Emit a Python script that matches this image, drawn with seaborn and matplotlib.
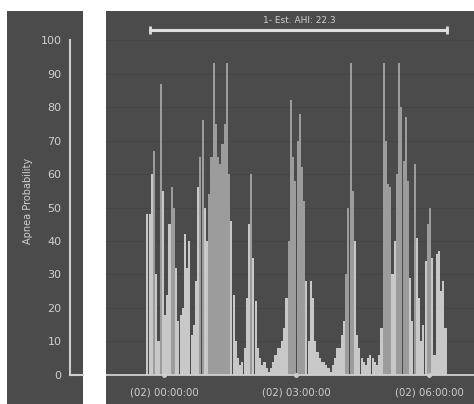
import numpy as np
import pandas as pd
import seaborn as sns
import matplotlib.pyplot as plt
from matplotlib.ticker import MultipleLocator

sns.set_style('white')
plt.rcParams['font.family'] = ['DejaVu Sans']

# 3-minute bins, minutes relative to (02) 00:00:00
minutes = np.arange(-22.5, 384, 3)
prob = [48, 48, 60, 67, 30, 10, 87, 55, 18, 24,
        45, 56, 50, 32, 16, 18, 20, 42, 32, 40,
        12, 15, 28, 56, 65, 76, 50, 40, 54, 65,
        93, 75, 65, 63, 69, 75, 93, 60, 46, 24,
        10, 5, 3, 4, 8, 23, 45, 60, 35, 22,
        8, 5, 3, 4, 2, 1, 2, 4, 6, 8,
        8, 10, 14, 23, 40, 82, 65, 58, 70, 78,
        62, 52, 28, 10, 28, 23, 10, 7, 5, 4,
        4, 3, 2, 1, 3, 5, 8, 8, 12, 16,
        30, 50, 93, 55, 40, 12, 8, 5, 4, 3,
        5, 6, 5, 4, 3, 6, 14, 93, 70, 57,
        56, 30, 40, 60, 93, 80, 64, 77, 58, 29,
        16, 63, 41, 23, 10, 15, 34, 45, 50, 35,
        6, 36, 37, 25, 28, 14]
mid_bins = [3, 6, 11, 12, 24, 25] + list(range(28, 38)) + [47] + list(range(64, 72)) \
    + [90, 91, 92, 93, 107, 108, 109, 110, 113, 114, 115, 116, 117, 118, 121, 127, 128]
tone = ['mid' if i in mid_bins else 'light' for i in range(len(prob))]
tick_minutes = [0, 180, 360]
tick_labels = ['(02) 00:00:00', '(02) 03:00:00', '(02) 06:00:00']
y_ticks = list(range(0, 101, 10))
ahi_text = '1- Est. AHI: 22.3'

df = pd.DataFrame({'minute': minutes, 'prob': prob, 'tone': tone})

bg = '#4b4b4b'
fg = '#cfcfcf'
W, H = 474, 404


def px(x0, y0, x1, y1):
    return [x0 / W, 1 - y1 / H, (x1 - x0) / W, (y1 - y0) / H]


fig = plt.figure(figsize=(4.74, 4.04), dpi=100, facecolor='white')
ax = fig.add_axes(px(106, 11, 474, 404))
lax = fig.add_axes(px(7, 11, 83, 404))
ylim = (-8.66, 108.66)

# main panel
ax.set_facecolor(bg)
for v in y_ticks[1:]:
    ax.axhline(v, color='#454545', lw=0.6, zorder=0.5)
sns.barplot(data=df, x='minute', y='prob', hue='tone',
            palette={'light': '#c8c8c8', 'mid': '#9c9c9c'},
            native_scale=True, dodge=False, width=0.95, linewidth=0,
            errorbar=None, legend=False, ax=ax, zorder=2)
ax.set_xlim(-78.8, 421.2)
ax.set_ylim(*ylim)
ax.axhline(0, color=fg, lw=1.3, zorder=3)
ax.plot(tick_minutes, [0] * 3, 'o', color=fg, ms=2.5, zorder=4)
for m, lab in zip(tick_minutes, tick_labels):
    ax.text(m, -5.2, lab, ha='center', va='center', color=fg, fontsize=7.3)
ax.set_xticks([])
ax.set_yticks([])
ax.set_xlabel('')
ax.set_ylabel('')
for s in ax.spines.values():
    s.set_visible(False)

# AHI bracket
ax.plot([-19, 384], [103, 103], color='#dddddd', lw=2.2, zorder=5)
ax.plot([-19, 384], [103, 103], '|', color='#dddddd', ms=6, mew=2, zorder=5)
ax.text(184, 105.8, ahi_text, ha='center', va='center', color=fg, fontsize=6.5)

# left axis panel
lax.set_facecolor(bg)
lax.set_xlim(0, 76)
lax.set_ylim(*ylim)
for k in ['top', 'right', 'bottom']:
    lax.spines[k].set_visible(False)
lax.spines['left'].set_position(('data', 63))
lax.spines['left'].set_bounds(0, 100)
lax.spines['left'].set_color(fg)
lax.spines['left'].set_linewidth(1.5)
lax.set_xticks([])
lax.set_yticks(y_ticks)
lax.yaxis.set_minor_locator(MultipleLocator(5))
lax.tick_params(axis='y', which='major', length=4, width=1.2, color=fg,
                labelcolor=fg, labelsize=8, pad=2)
lax.tick_params(axis='y', which='minor', length=2.5, width=1.2, color=fg)
lax.plot([63, 76], [0, 0], color=fg, lw=1.5, clip_on=False)
lax.text(21, 52, 'Apnea Probability', rotation=90, ha='center', va='center',
         color=fg, fontsize=7)

fig.savefig('out.png', dpi=100, facecolor='white')
